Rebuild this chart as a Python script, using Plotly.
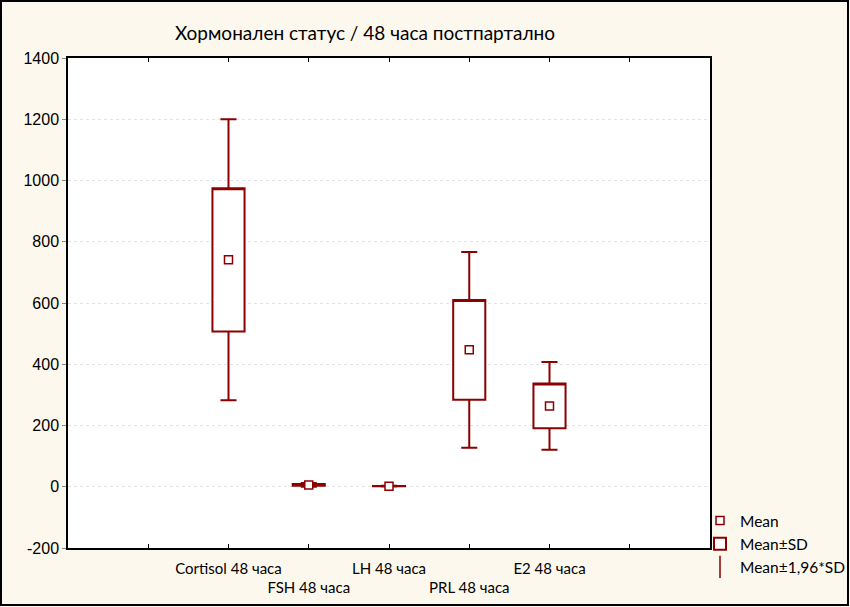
import plotly.graph_objects as go

# ---- data ----
categories = ["Cortisol 48 часа", "FSH 48 часа", "LH 48 часа", "PRL 48 часа", "E2 48 часа"]
means = [741, 6, 2, 447, 264]
sds = [234, 3, 0.6, 163, 73]
y_ticks = [-200, 0, 200, 400, 600, 800, 1000, 1200, 1400]
y_tick_labels = ["-200", "0", "200", "400", "600", "800", "1000", "1200", "1400"]
title_text = "Хормонален статус / 48 часа постпартално"
legend_names = ["Mean", "Mean±SD", "Mean±1,96*SD"]

RED = "#8b0000"
W, H = 850, 607
ML, MR, MT, MB = 68, 140, 58, 59
PW, PH = W - ML - MR, H - MT - MB

xpos = list(range(len(categories)))
q1 = [m - s for m, s in zip(means, sds)]
q3 = [m + s for m, s in zip(means, sds)]
lo = [m - 1.96 * s for m, s in zip(means, sds)]
hi = [m + 1.96 * s for m, s in zip(means, sds)]

fig = go.Figure()

# Mean ± SD box with Mean ± 1.96*SD whiskers
fig.add_trace(go.Box(
    x=xpos, q1=q1, q3=q3, median=q3, lowerfence=lo, upperfence=hi,
    width=0.4, whiskerwidth=0.5, boxpoints=False,
    fillcolor="white", line=dict(color=RED, width=2),
    name=legend_names[1], legendrank=2, hoverinfo="skip",
))

# Means
fig.add_trace(go.Scatter(
    x=xpos, y=means, mode="markers",
    marker=dict(symbol="square", size=8, color="white", line=dict(color=RED, width=1.5)),
    name=legend_names[0], legendrank=1,
))

# legend entry for whiskers
fig.add_trace(go.Scatter(
    x=[None], y=[None], mode="markers",
    marker=dict(symbol="line-ns-open", size=16, color=RED, line=dict(color=RED, width=1.5)),
    name=legend_names[2], legendrank=3,
))

ticktext = []
for i, c in enumerate(categories):
    ticktext.append(c if i % 2 == 0 else "<br>" + c)

fig.update_layout(
    width=W, height=H,
    margin=dict(l=ML, r=MR, t=MT, b=MB, autoexpand=False),
    paper_bgcolor="#fdf8ee",
    plot_bgcolor="white",
    font=dict(family="Lato", color="black"),
    title=dict(text=title_text, x=(365 - ML) / PW, xref="paper", xanchor="center",
               y=1 - 33 / H, yref="container", yanchor="middle",
               font=dict(family="Lato", size=19, color="black")),
    showlegend=True,
    legend=dict(x=(700 - ML) / PW, xanchor="left", y=(548 - 584) / PH, yanchor="bottom",
                bgcolor="rgba(0,0,0,0)", font=dict(family="Lato", size=15.5, color="black"),
                tracegroupgap=0, itemwidth=30),
    xaxis=dict(range=[-2, 6], tickmode="array", tickvals=[-1] + xpos + [5],
               ticktext=[""] + ticktext + [""], tickangle=0, automargin=False,
               showgrid=False, zeroline=False,
               showline=True, linecolor="black", linewidth=1.5, mirror="ticks",
               ticks="inside", ticklen=4, tickcolor="black", ticklabelstandoff=6,
               tickfont=dict(family="Lato", size=15, color="black")),
    yaxis=dict(range=[-200, 1400], tickmode="array", tickvals=y_ticks, ticktext=y_tick_labels,
               automargin=False,
               showgrid=True, gridcolor="#e2e2e2", griddash="dot", gridwidth=1,
               zeroline=False,
               showline=True, linecolor="black", linewidth=1.5, mirror=True,
               ticks="outside", ticklen=4, tickcolor="#888888",
               tickfont=dict(family="Liberation Sans", size=16, color="black")),
    shapes=[dict(type="rect", xref="paper", yref="paper",
                 x0=(1 - ML) / PW, x1=(W - 2 - ML) / PW,
                 y0=(PH + MT - (H - 2)) / PH, y1=(PH + MT - 1) / PH,
                 line=dict(color="black", width=2), fillcolor="rgba(0,0,0,0)", layer="below")],
)

fig.write_html("out.html", config={"displayModeBar": False},
               post_script="document.body.style.margin='0';")
